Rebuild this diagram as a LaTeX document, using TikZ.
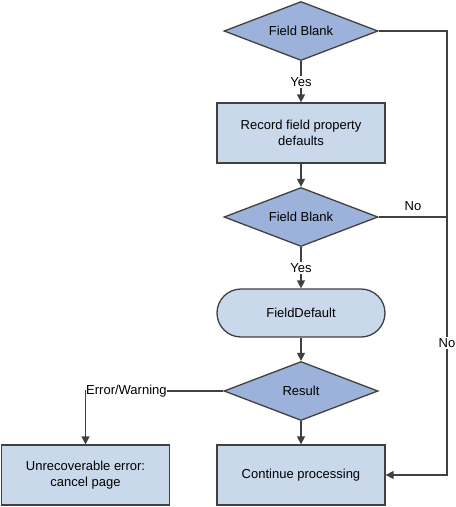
\documentclass[tikz,border=0pt]{standalone}
\usepackage{fontspec}
\setmainfont{Liberation Sans}
\usepackage{xcolor}
\usepackage{tikz}
\usetikzlibrary{positioning,%
  arrows.meta,%
  shapes.geometric,%
  calc
}
\definecolor{decfill}{HTML}{9DB2DB}
\definecolor{boxfill}{HTML}{CAD8EC}
\definecolor{linegray}{HTML}{404040}

\begin{document}
\begin{tikzpicture}[x=1pt,y=-1pt,
    every node/.style={font=\fontsize{13}{15.5}\selectfont},
    decision/.style={diamond,draw=linegray,fill=decfill,line width=1.3pt,
      minimum width=154pt,minimum height=59pt,inner sep=0pt,aspect=2.6},
    process/.style={rectangle,draw=linegray,fill=boxfill,line width=1.3pt,
      minimum width=168pt,minimum height=60pt,align=center,inner sep=0pt},
    pill/.style={process,minimum height=48pt,rounded corners=24pt},
    flow/.style={draw=linegray,line width=1.3pt,-{Triangle[length=8pt,width=8pt]}},
    lbl/.style={fill=white,inner sep=1.5pt}]
  \useasboundingbox (0,0) rectangle (456,507);

  % main column
  \node[decision] (blank1) at (301,31) {Field Blank};
  \node[process]  (defaults) at (301,133) {Record field property\\defaults};
  \node[decision] (blank2) at (301,217) {Field Blank};
  \node[pill]     (fielddef) at (301,313) {FieldDefault};
  \node[decision] (result) at (301,391) {Result};
  \node[process]  (cont) at (301,475) {Continue processing};
  \node[process]  (cancel) at (85.5,475) {Unrecoverable error:\\cancel page};

  \coordinate (rtop) at (447,31);
  \coordinate (rbot) at (447,475);

  \draw[flow] (blank1) -- node[lbl] {Yes} (defaults);
  \draw[flow] (defaults) -- (blank2);
  \draw[flow] (blank2) -- node[lbl] {Yes} (fielddef);
  \draw[flow] (fielddef) -- (result);
  \draw[flow] (result) -- (cont);
  \draw[flow] (result.west) -| (cancel.north);
  \node[lbl,anchor=west,inner xsep=0.5pt] (errlbl) at (85.5,391) {Error/Warning};

  % the "No" branches
  \draw[flow] (blank1.east) -- (rtop) -- (rbot) -- (cont.east);
  \draw[draw=linegray,line width=1.3pt] (blank2.east) -- (blank2.east -| rtop);
  \node[lbl] (no1) at (447,343) {No};
  \node (no2) at (413,206) {No};
\end{tikzpicture}
\end{document}
